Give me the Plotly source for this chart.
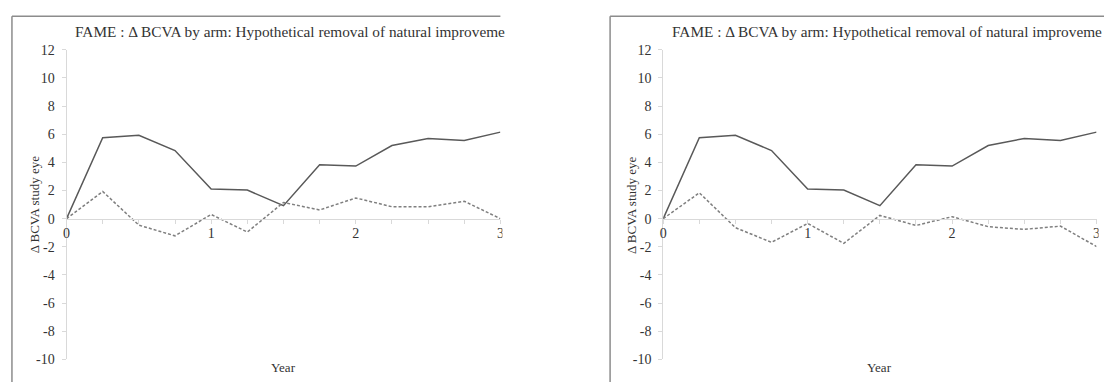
import plotly.graph_objects as go

years = [0, 0.25, 0.5, 0.75, 1.0, 1.25, 1.5, 1.75, 2.0, 2.25, 2.5, 2.75, 3.0]
left_solid = [0, 5.75, 5.92, 4.84, 2.11, 2.03, 0.92, 3.83, 3.74, 5.2, 5.7, 5.55, 6.15]
left_dashed = [0, 1.93, -0.46, -1.22, 0.3, -0.95, 1.15, 0.62, 1.47, 0.85, 0.85, 1.24, 0]
right_solid = [0, 5.75, 5.92, 4.84, 2.11, 2.03, 0.92, 3.83, 3.74, 5.2, 5.7, 5.55, 6.15]
right_dashed = [0, 1.84, -0.64, -1.68, -0.34, -1.75, 0.23, -0.48, 0.14, -0.57, -0.76, -0.53, -1.98]

x_tickvals = [0, 1, 2, 3]
x_ticktext = ["0", "1", "2", "3"]
y_tickvals = [-10, -8, -6, -4, -2, 0, 2, 4, 6, 8, 10, 12]
y_ticktext = ["-10", "-8", "-6", "-4", "-2", "0", "2", "4", "6", "8", "10", "12"]
title_text = "FAME : \u0394 BCVA by arm: Hypothetical removal of natural improveme"
y_title = "\u0394 BCVA study eye"
x_title = "Year"

W, H = 1108, 390
FONT = "Liberation Serif, Times New Roman, serif"
AXIS_COLOR = "#d9d9d9"
TEXT_COLOR = "#333333"
FRAME_COLOR = "#8c8c8c"

def px(x):
    return x / W

def py(y):
    return 1 - y / H

fig = go.Figure()

panels = [
    dict(x0=63, x1=500, frame=8, clip=502, clip_end=610, solid=left_solid, dashed=left_dashed, xa="x", ya="y", ytx=31),
    dict(x0=664, x1=1100.5, frame=610.5, clip=1102.5, clip_end=1108, solid=right_solid, dashed=right_dashed, xa="x2", ya="y2", ytx=632),
]

y_top, y_bot = 44.5, 366.5
y_zero = y_top + (y_bot - y_top) * 12 / 22

for i, p in enumerate(panels):
    fig.add_trace(go.Scatter(x=years, y=p["solid"], mode="lines", xaxis=p["xa"], yaxis=p["ya"],
                             line=dict(color="#595959", width=1.5), showlegend=False, hoverinfo="skip"))
    fig.add_trace(go.Scatter(x=years, y=p["dashed"], mode="lines", xaxis=p["xa"], yaxis=p["ya"],
                             line=dict(color="#7f7f7f", width=1.5, dash="3px,2px"), showlegend=False, hoverinfo="skip"))
    sfx = "" if i == 0 else str(i + 1)
    fig.update_layout(**{
        "xaxis" + sfx: dict(domain=[px(p["x0"]), px(p["x1"])], range=[0, 3], anchor="free",
                            position=py(y_zero), tickvals=x_tickvals, ticktext=x_ticktext,
                            ticks="outside", ticklen=4, tickcolor=AXIS_COLOR, showline=True,
                            linecolor=AXIS_COLOR, linewidth=1, showgrid=False, zeroline=False,
                            ticklabelstandoff=-2, fixedrange=True,
                            minor=dict(dtick=0.25, tick0=0, ticks="outside", ticklen=4, tickcolor=AXIS_COLOR, showgrid=False),
                            tickfont=dict(family=FONT, size=14, color=TEXT_COLOR)),
        "yaxis" + sfx: dict(domain=[py(y_bot), py(y_top)], range=[-10, 12], anchor=p["xa"],
                            tickvals=y_tickvals, ticktext=y_ticktext, ticks="outside", ticklen=4, tickcolor=AXIS_COLOR,
                            showline=True, linecolor=AXIS_COLOR, linewidth=1, showgrid=False,
                            zeroline=False, ticklabelstandoff=4, fixedrange=True,
                            tickfont=dict(family=FONT, size=14, color=TEXT_COLOR)),
    })
    # covers the cropped part of the panel
    fig.add_shape(type="rect", xref="paper", yref="paper", x0=px(p["clip"]), x1=px(p["clip_end"]),
                  y0=0, y1=1, fillcolor="white", line=dict(width=0), layer="above")
    # frame
    fig.add_shape(type="line", xref="paper", yref="paper", x0=px(p["frame"]), x1=px(p["clip"] - 2 if i == 0 else W),
                  y0=py(9.5), y1=py(9.5), line=dict(color=FRAME_COLOR, width=1.5), layer="above")
    fig.add_shape(type="line", xref="paper", yref="paper", x0=px(p["frame"]), x1=px(p["frame"]),
                  y0=py(9.5), y1=0, line=dict(color=FRAME_COLOR, width=1.5), layer="above")
    # title
    fig.add_annotation(text=title_text, xref="paper", yref="paper", x=px(p["x0"] + 7), y=py(25),
                       xanchor="left", yanchor="middle", showarrow=False,
                       font=dict(family=FONT, size=15.3, color=TEXT_COLOR))
    fig.add_annotation(text=y_title, xref="paper", yref="paper", x=px(p["ytx"]), y=py((y_top + y_bot) / 2),
                       xanchor="center", yanchor="middle", textangle=-90, showarrow=False,
                       font=dict(family=FONT, size=13, color=TEXT_COLOR))
    fig.add_annotation(text=x_title, xref="paper", yref="paper", x=px((p["x0"] + p["x1"]) / 2), y=py(375),
                       xanchor="center", yanchor="middle", showarrow=False,
                       font=dict(family=FONT, size=13, color=TEXT_COLOR))

fig.update_layout(width=W, height=H, margin=dict(l=0, r=0, t=0, b=0),
                  paper_bgcolor="white", plot_bgcolor="white", showlegend=False, hovermode=False)

fig.write_html("out.html", config={"displayModeBar": False},
               post_script="document.body.style.margin='0';document.body.style.overflow='hidden';")
